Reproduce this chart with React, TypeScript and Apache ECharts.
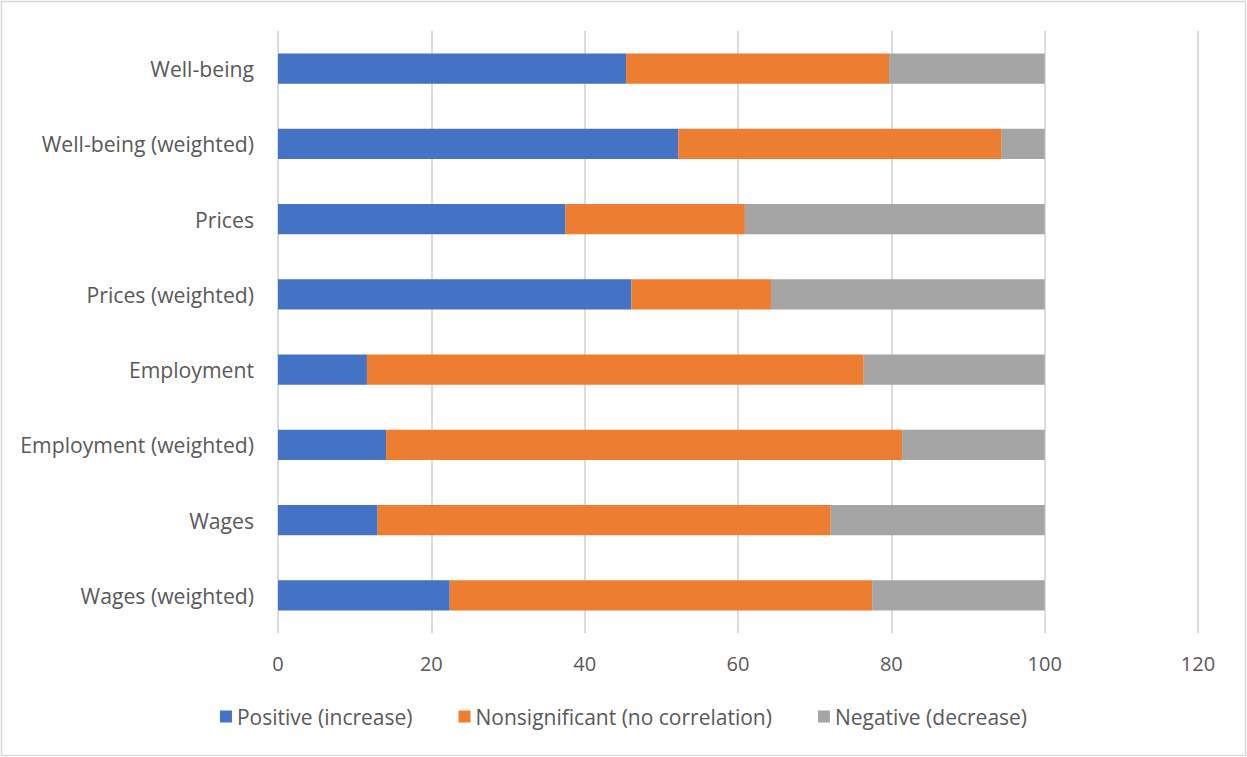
import React, { useEffect, useRef } from "react";
import * as echarts from "echarts";

const categories = [
  "Well-being",
  "Well-being (weighted)",
  "Prices",
  "Prices (weighted)",
  "Employment",
  "Employment (weighted)",
  "Wages",
  "Wages (weighted)",
];
const positive = [45.4, 52.2, 37.5, 46.1, 11.6, 14.1, 13.0, 22.4];
const nonsignificant = [34.3, 42.2, 23.4, 18.2, 64.8, 67.3, 59.1, 55.1];
const negative = [20.3, 5.6, 39.1, 35.7, 23.6, 18.6, 27.9, 22.5];
const seriesNames = [
  "Positive (increase)",
  "Nonsignificant (no correlation)",
  "Negative (decrease)",
];
const colors = ["#4472C4", "#ED7D31", "#A5A5A5"];

export default function App() {
  const ref = useRef<HTMLDivElement>(null);
  useEffect(() => {
    if (!ref.current) return;
    const chart = echarts.init(ref.current, undefined, { renderer: "svg" });
    const font = "'Open Sans', 'Noto Sans', sans-serif";
    const data = [positive, nonsignificant, negative];
    chart.setOption({
      animation: false,
      backgroundColor: "#ffffff",
      textStyle: { fontFamily: font },
      graphic: [
        {
          type: "rect",
          shape: { x: 1.5, y: 1.5, width: 1244, height: 754 },
          style: { fill: "none", stroke: "#d9d9d9", lineWidth: 1.5 },
          silent: true,
        },
      ],
      grid: { left: 278, right: 49, top: 31, bottom: 124, containLabel: false },
      legend: {
        bottom: 25,
        left: "center",
        itemWidth: 12,
        itemHeight: 12,
        itemGap: 46,
        icon: "rect",
        textStyle: { color: "#595959", fontSize: 21, fontFamily: font },
        data: seriesNames,
      },
      xAxis: {
        type: "value",
        min: 0,
        max: 120,
        interval: 20,
        axisLine: { show: false },
        axisTick: { show: false },
        axisLabel: { color: "#595959", fontSize: 20, margin: 20, fontFamily: font },
        splitLine: { show: true, lineStyle: { color: "#d9d9d9", width: 1.8 } },
      },
      yAxis: {
        type: "category",
        data: categories,
        inverse: true,
        axisLine: { show: false },
        axisTick: { show: false },
        axisLabel: { color: "#595959", fontSize: 21.2, margin: 24, fontFamily: font },
      },
      series: seriesNames.map((name, i) => ({
        name,
        type: "bar",
        stack: "total",
        barCategoryGap: "60%",
        itemStyle: { color: colors[i] },
        data: data[i],
      })),
    });
    return () => chart.dispose();
  }, []);
  return (
    <div
      ref={ref}
      style={{ position: "fixed", left: 0, top: 0, width: 1247, height: 757 }}
    />
  );
}
